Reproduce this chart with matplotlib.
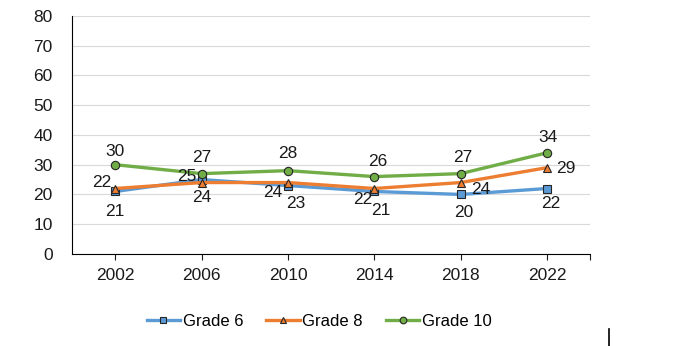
import numpy as np
import matplotlib.pyplot as plt
from matplotlib.lines import Line2D

plt.rcParams['font.family'] = ['Liberation Sans', 'DejaVu Sans']

years = ['2002', '2006', '2010', '2014', '2018', '2022']
grade6 = [21, 25, 23, 21, 20, 22]
grade8 = [22, 24, 24, 22, 24, 29]
grade10 = [30, 27, 28, 26, 27, 34]

# label offsets in pixels (dx, dy) for each point
off6 = [(0, -20), (-15, 3), (8, -18), (6, -19), (3, -18), (4, -15)]
off8 = [(-14, 6), (0, -15), (-15, -10), (-12, -11), (20, -7), (19, -1)]
off10 = [(0, 13), (0, 16), (0, 17), (3, 15), (2, 16), (1, 15)]

fig = plt.figure(figsize=(6.8, 3.46), dpi=100)
ax = fig.add_axes([0.106, 0.266, 0.762, 0.688])

x = np.arange(len(years))
series = [
    ('Grade 6', grade6, '#5B9BD5', 's', off6),
    ('Grade 8', grade8, '#ED7D31', '^', off8),
    ('Grade 10', grade10, '#70AD47', 'o', off10),
]
for name, vals, col, mk, offs in series:
    ax.plot(x, vals, color=col, lw=2.4, marker=mk, markersize=6,
            markerfacecolor=col, markeredgecolor='#262626', markeredgewidth=0.8,
            label=name, zorder=3)
    for xi, v, (dx, dy) in zip(x, vals, offs):
        ax.annotate(str(v), (xi, v), xytext=(dx * 0.72, dy * 0.72),
                    textcoords='offset points', ha='center', va='center',
                    fontsize=12.5, color='#1a1a1a', zorder=4)

ax.set_xlim(-0.5, 5.5)
ax.set_ylim(0, 80)
ax.set_yticks(range(0, 81, 10))
ax.grid(axis='y', color='#d9d9d9', lw=0.8)
ax.set_axisbelow(True)
ax.set_xticks(list(x) + [5.5])
ax.set_xticklabels(years + [''])
ax.tick_params(axis='x', length=4, width=0.8, pad=6, labelsize=12.5, colors='#1a1a1a')
ax.tick_params(axis='y', length=0, pad=14, labelsize=12.5, colors='#1a1a1a')
for s in ['top', 'right']:
    ax.spines[s].set_visible(False)
for s in ['left', 'bottom']:
    ax.spines[s].set_color('black')
    ax.spines[s].set_linewidth(0.8)

ax.legend(loc='upper center', bbox_to_anchor=(0.477, -0.19), ncol=3, frameon=False,
          fontsize=12, handlelength=2.0, columnspacing=1.4, handletextpad=0.15,
          markerscale=0.8)

fig.add_artist(Line2D([609 / 680, 609 / 680], [0, 17 / 346], color='black', lw=1.2))

fig.savefig('out.png', dpi=100)
